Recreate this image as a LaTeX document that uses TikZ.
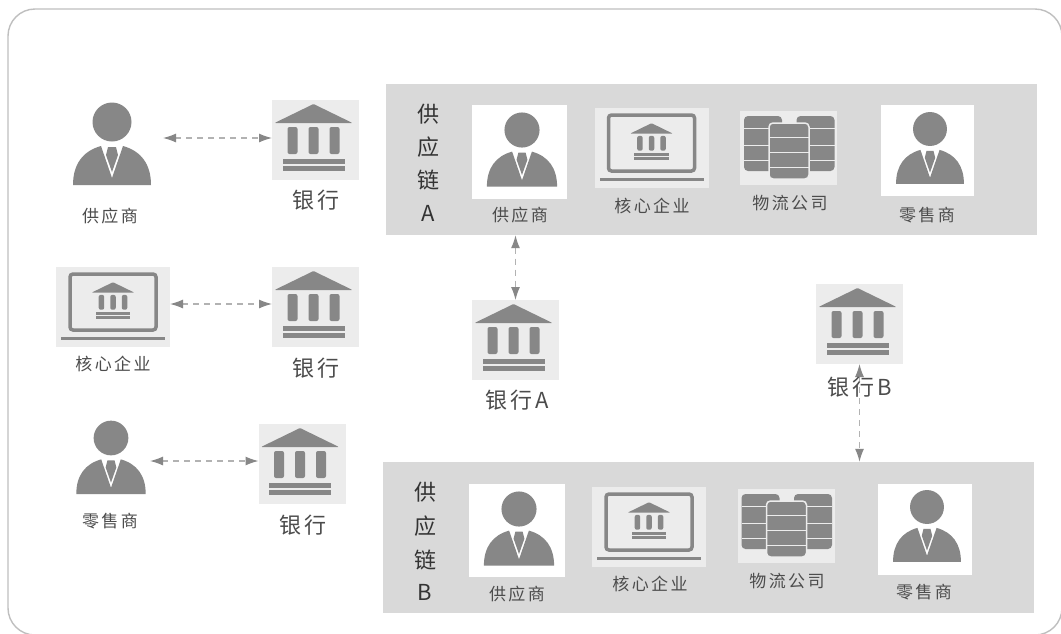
\documentclass[tikz,border=0pt]{standalone}
\usepackage{fontspec}
\setmainfont{Noto Sans CJK SC}[LetterSpace=14]
\usetikzlibrary{arrows.meta}
\definecolor{icon}{gray}{0.53}
\definecolor{pale}{gray}{0.925}
\definecolor{band}{gray}{0.85}
\definecolor{txt}{gray}{0.3}
\tikzset{
  x=1pt,y=-1pt,
  frame/.style={draw=black!25,line width=1.4pt,rounded corners=27pt},
  bandbox/.style={fill=band,draw=none},
  slot/.style={minimum width=#1,inner sep=0pt,outer sep=0pt,draw=none},
  lab/.style={text=txt,font=\fontsize{17}{17}\selectfont,inner sep=0pt},
  biglab/.style={text=txt,font=\fontsize{22}{22}\selectfont,inner sep=0pt},
  conn/.style={draw=black!30,line width=1.2pt,dash pattern=on 6pt off 5pt,
    {Latex[length=13pt,width=9pt,color=icon]}-{Latex[length=13pt,width=9pt,color=icon]}},
  personicon/.pic={
    \fill[icon] (0,0) circle[radius=19.5];
    \fill[icon] (-39,63) .. controls (-39,42) and (-29,29) .. (-11,24) -- (0,56) -- (11,24)
       .. controls (29,29) and (39,42) .. (39,63) -- cycle;
    \fill[icon] (-4,25) -- (4,25) -- (6,33) -- (0,50) -- (-6,33) -- cycle;
  },
  bankglyph/.pic={
    \fill[icon,rounded corners=1pt] (0,-36) -- (39,-17) -- (-39,-17) -- cycle;
    \foreach \c in {-21,0,21}{
      \fill[icon,rounded corners=2pt] (\c-5,-13) rectangle (\c+5,14);
    }
    \fill[icon] (-31,19) rectangle (31,23.5);
    \fill[icon] (-31,26) rectangle (31,31);
  },
  bankicon/.pic={
    \fill[pale] (-43.5,-40) rectangle (43.5,40);
    \pic at (-2,0) {bankglyph};
  },
  laptopicon/.pic={
    \fill[pale] (-57,-40) rectangle (57,40);
    \draw[icon,line width=3.5pt,rounded corners=3pt] (-43,-33) rectangle (43,23);
    \fill[icon] (-52,30) rectangle (52,33);
    \pic[scale=0.55] at (0,-5) {bankglyph};
  },
  servericon/.pic={
    \fill[pale] (-48.5,-37) rectangle (48.5,37);
    \foreach \c in {-25.5,27}{
      \fill[icon,rounded corners=4pt] (\c-19,-32) rectangle (\c+19,23);
      \foreach \h in {-20,-3,12}{\draw[pale,line width=1pt] (\c-19,\h) -- (\c+19,\h);}
    }
    \fill[icon,rounded corners=4pt,draw=pale,line width=1.5pt] (-19.5,-25) rectangle (20.5,31);
    \foreach \h in {-11,4,19}{\draw[pale,line width=1pt] (-19.5,\h) -- (20.5,\h);}
  },
}
\begin{document}
\begin{tikzpicture}
\useasboundingbox (0,0) rectangle (1061,633);
\begin{scope}
\clip (0,0) rectangle (1061,633);
\fill[white] (0,0) rectangle (1061,633);
\path[frame] (8,9) rectangle (1062,635);
\end{scope}

% left column
\pic at (112,122) {personicon};
\node[slot=102pt] (p1) at (112,138) {};
\node[lab] (lp1) at (110,216) {供应商};
\pic at (315.5,140) {bankicon};
\node[slot=87pt] (b1) at (315.5,138) {};
\node[biglab] (lb1) at (316,200) {银行};
\draw[conn] (p1) -- (b1);

\pic at (113,307) {laptopicon};
\node[slot=114pt] (c2) at (113,304) {};
\node[lab] (lc2) at (113,364) {核心企业};
\pic at (315.5,307) {bankicon};
\node[slot=87pt] (b2) at (315.5,304) {};
\node[biglab] (lb2) at (316,368) {银行};
\draw[conn] (c2) -- (b2);

\pic[scale=0.89] at (111,438) {personicon};
\node[slot=78pt] (r3) at (111,461) {};
\node[lab] (lr3) at (110,521) {零售商};
\pic at (302,464) {bankicon};
\node[slot=87pt] (b3) at (302,461) {};
\node[biglab] (lb3) at (303,525) {银行};
\draw[conn] (r3) -- (b3);

% chain A
\fill[bandbox] (386,84) rectangle (1037,235);
\node[bandbox,minimum width=651pt,minimum height=151pt,fill=none,inner sep=0pt] (chA) at (711.5,159.5) {};
\foreach \t/\y/\n in {供/114/a,应/147/b,链/180/c,A/213/d}{\node[biglab,text=black!80] (chA\n) at (428,\y) {\t};}
\fill[white] (472,105) rectangle (567,199);
\pic[scale=0.9] at (522,130) {personicon};
\node[lab] (a1) at (520,215) {供应商};
\pic at (651.5,148) {laptopicon};
\node[lab] (a2) at (652,206) {核心企业};
\pic at (788.5,148) {servericon};
\node[lab] (a3) at (790,203) {物流公司};
\fill[white] (881,105) rectangle (974,196);
\pic[scale=0.87] at (930,129) {personicon};
\node[lab] (a4) at (927,215) {零售商};

% chain B
\fill[bandbox] (383,462) rectangle (1034,613);
\node[bandbox,minimum width=651pt,minimum height=151pt,fill=none,inner sep=0pt] (chB) at (708.5,537.5) {};
\foreach \t/\y/\n in {供/492/a,应/526/b,链/560/c,B/592/d}{\node[biglab,text=black!80] (chB\n) at (425,\y) {\t};}
\fill[white] (469,484) rectangle (565,577);
\pic[scale=0.9] at (519,509) {personicon};
\node[lab] (e1) at (517,594) {供应商};
\pic at (649,527) {laptopicon};
\node[lab] (e2) at (650,584) {核心企业};
\pic at (786,526) {servericon};
\node[lab] (e3) at (787,581) {物流公司};
\fill[white] (878,484) rectangle (972,575);
\pic[scale=0.87] at (927,507) {personicon};
\node[lab] (e4) at (924,592) {零售商};

% banks A and B
\pic at (515.5,340) {bankicon};
\node[slot=87pt,minimum height=80pt] (bA) at (515.5,340) {};
\node[biglab] (lbA) at (517,400) {银行A};
\draw[conn] (chA.south -| bA.north) -- (bA.north);

\pic at (859.5,324) {bankicon};
\node[slot=87pt,minimum height=80pt] (bB) at (859.5,324) {};
\draw[conn] (bB.south) -- (chB.north -| bB.south);
\node[biglab] (lbB) at (860,387) {银行B};
\end{tikzpicture}
\end{document}
